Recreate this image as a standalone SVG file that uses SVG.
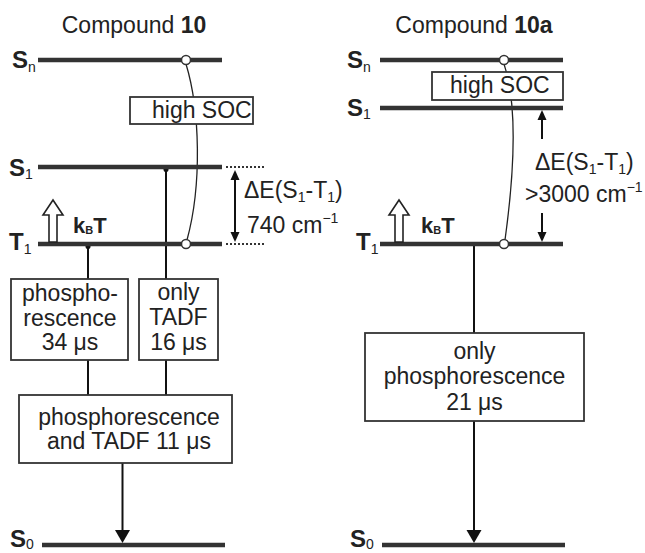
<svg xmlns="http://www.w3.org/2000/svg" width="645" height="553" viewBox="0 0 645 553">
<style>
text{font-family:"Liberation Sans",Arial,sans-serif;fill:#222}
.t{font-size:23px}
.b{font-weight:bold}
.lv{font-size:24px;font-weight:bold}
.sub{font-size:14px;font-weight:normal}
.lvl{stroke:#333;stroke-width:4.5;fill:none}
.dot{stroke:#333;stroke-width:2;stroke-dasharray:2 2;fill:none}
.box{fill:#fff;stroke:#333;stroke-width:1.8}
.ln{stroke:#111;stroke-width:2;fill:none}
.thin{stroke:#222;stroke-width:1.3;fill:none}
.circ{fill:#fff;stroke:#333;stroke-width:1.5}
.open{fill:#fff;stroke:#222;stroke-width:1.6}
.mid{text-anchor:middle}
</style>

<!-- titles -->
<text class="t mid" x="134" y="33">Compound <tspan class="b">10</tspan></text>
<text class="t mid" x="474" y="33">Compound <tspan class="b">10a</tspan></text>

<!-- connectors -->
<g id="connectors">
<path class="thin" d="M186,64 C200,110 202,185 187,240"/>
<path class="thin" d="M504,64 C516,100 516,160 505,240"/>
<line class="dot" x1="226" y1="167" x2="265" y2="167"/>
<line class="dot" x1="226" y1="244" x2="265" y2="244"/>
<line class="ln" x1="235" y1="178" x2="235" y2="234"/>
<path d="M235,170 L230.5,180 L239.5,180 Z" fill="#111"/>
<path d="M235,242 L230.5,232 L239.5,232 Z" fill="#111"/>
<line class="ln" x1="542" y1="118" x2="542" y2="139"/>
<path d="M542,110 L537.5,120 L546.5,120 Z" fill="#111"/>
<line class="ln" x1="542" y1="213" x2="542" y2="234"/>
<path d="M542,242 L537.5,232 L546.5,232 Z" fill="#111"/>
<line class="ln" x1="166" y1="168" x2="166" y2="279"/>
<line class="ln" x1="88" y1="245" x2="88" y2="279"/>
<line class="ln" x1="88" y1="360" x2="88" y2="395"/>
<line class="ln" x1="166" y1="360" x2="166" y2="395"/>
<line class="ln" x1="122.5" y1="463" x2="122.5" y2="531"/>
<path d="M122.5,543 L115,530 L130,530 Z" fill="#111"/>
<line class="ln" x1="474" y1="245" x2="474" y2="333"/>
<line class="ln" x1="474" y1="421" x2="474" y2="531"/>
<path d="M474,543 L466.5,530 L481.5,530 Z" fill="#111"/>
<circle cx="166" cy="169.5" r="2.5" fill="#111"/>
<circle cx="88" cy="246.5" r="2.5" fill="#111"/>
</g>

<!-- left levels -->
<g id="Sn_left">
<line class="lvl" x1="38" y1="60" x2="222" y2="60"/>
<text class="lv" x="12" y="68">S<tspan class="sub" dy="4">n</tspan></text>
<circle class="circ" cx="186" cy="60" r="4.5"/>
</g>
<g id="S1_left">
<line class="lvl" x1="38" y1="167" x2="222" y2="167"/>
<text class="lv" x="9" y="176">S<tspan class="sub" dy="3">1</tspan></text>
</g>
<g id="T1_left">
<line class="lvl" x1="38" y1="244" x2="222" y2="244"/>
<text class="lv" x="9" y="250">T<tspan class="sub" dy="4">1</tspan></text>
<circle class="circ" cx="186" cy="244" r="4.5"/>
</g>
<g id="S0_left">
<line class="lvl" x1="42" y1="545" x2="225" y2="545"/>
<text class="lv" x="10" y="547">S<tspan class="sub" dy="2">0</tspan></text>
</g>
<g id="kbt_left">
<path class="open" d="M49,242 L49,215 L43,215 L53,200 L63,215 L57,215 L57,242 Z"/>
<text class="lv" x="73" y="233" style="font-size:22px">k<tspan style="font-size:11px" dy="1">B</tspan><tspan dy="-1">T</tspan></text>
</g>
<g id="soc_left">
<rect class="box" x="130" y="97" width="123" height="27"/>
<text class="t" x="152" y="118">high SOC</text>
</g>
<g id="dE_left">
<text class="t" x="244" y="198">ΔE(S<tspan class="sub" dy="4">1</tspan><tspan dy="-4">-T</tspan><tspan class="sub" dy="4">1</tspan><tspan dy="-4">)</tspan></text>
<text class="t" x="247" y="233">740 cm<tspan class="sub" dy="-10">−1</tspan></text>
</g>
<g id="box_phos">
<rect class="box" x="11" y="279" width="117" height="81"/>
<text class="t mid" x="70" y="301">phospho-</text>
<text class="t mid" x="70" y="326">rescence</text>
<text class="t mid" x="70" y="350">34 μs</text>
</g>
<g id="box_tadf">
<rect class="box" x="139" y="279" width="79" height="81"/>
<text class="t mid" x="178.5" y="300">only</text>
<text class="t mid" x="178.5" y="325">TADF</text>
<text class="t mid" x="178.5" y="350">16 μs</text>
</g>
<g id="box_both">
<rect class="box" x="19" y="395" width="213" height="68"/>
<text class="t mid" x="129" y="425">phosphorescence</text>
<text class="t mid" x="129" y="449">and TADF 11 μs</text>
</g>

<!-- right levels -->
<g id="Sn_right">
<line class="lvl" x1="380" y1="60" x2="563" y2="60"/>
<text class="lv" x="347" y="68">S<tspan class="sub" dy="4">n</tspan></text>
<circle class="circ" cx="504" cy="60" r="4.5"/>
</g>
<g id="S1_right">
<line class="lvl" x1="380" y1="108" x2="563" y2="108"/>
<text class="lv" x="347" y="116">S<tspan class="sub" dy="3">1</tspan></text>
</g>
<g id="T1_right">
<line class="lvl" x1="380" y1="244" x2="563" y2="244"/>
<text class="lv" x="356" y="250">T<tspan class="sub" dy="4">1</tspan></text>
<circle class="circ" cx="504" cy="244" r="4.5"/>
</g>
<g id="S0_right">
<line class="lvl" x1="382" y1="545" x2="565" y2="545"/>
<text class="lv" x="350" y="547">S<tspan class="sub" dy="2">0</tspan></text>
</g>
<g id="kbt_right">
<path class="open" d="M395,242 L395,215 L389,215 L399,200 L409,215 L403,215 L403,242 Z"/>
<text class="lv" x="421" y="233" style="font-size:22px">k<tspan style="font-size:11px" dy="1">B</tspan><tspan dy="-1">T</tspan></text>
</g>
<g id="soc_right">
<rect class="box" x="432" y="72" width="131" height="28"/>
<text class="t" x="450" y="93">high SOC</text>
</g>
<g id="dE_right">
<text class="t" x="535" y="170">ΔE(S<tspan class="sub" dy="4">1</tspan><tspan dy="-4">-T</tspan><tspan class="sub" dy="4">1</tspan><tspan dy="-4">)</tspan></text>
<text class="t" x="525" y="202">&gt;3000 cm<tspan class="sub" dy="-10">−1</tspan></text>
</g>
<g id="box_only_phos">
<rect class="box" x="365" y="333" width="219" height="88"/>
<text class="t mid" x="474.5" y="359">only</text>
<text class="t mid" x="474.5" y="384">phosphorescence</text>
<text class="t mid" x="474.5" y="410">21 μs</text>
</g>
</svg>
